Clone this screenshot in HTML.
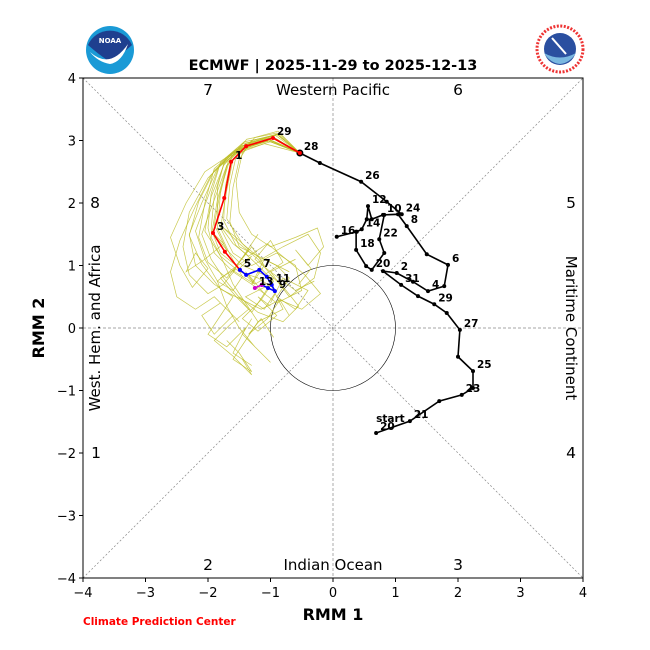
<!DOCTYPE html>
<html><head><meta charset="utf-8"><style>
body{margin:0;background:#fff;}
svg{display:block;font-family:"DejaVu Sans","Liberation Sans",sans-serif;}
</style></head><body>
<svg id="chart" width="650" height="650" viewBox="0 0 650 650">
<rect width="650" height="650" fill="#fff"/>
<g>
<circle cx="110" cy="50" r="24" fill="#1a9ad6"/>
<path d="M88 45 A24 24 0 0 1 132 45 Q122 54 110 62 Q98 54 88 45Z" fill="#1f3f8f"/>
<path d="M90 52 Q110 70 128 44 Q122 62 110 64 Q98 62 90 52Z" fill="#fff"/>
<text x="110" y="43" font-size="7" font-weight="bold" fill="#fff" text-anchor="middle">NOAA</text>
</g>
<g>
<circle cx="560" cy="49" r="23" fill="#fff" stroke="#e33" stroke-width="3" stroke-dasharray="2 1.5"/>
<circle cx="560" cy="49" r="16" fill="#2a4fa0"/>
<path d="M544 53 Q560 62 576 53 Q570 63 560 64 Q550 63 544 53Z" fill="#7ab8e0"/>
<path d="M552 38 L566 54" stroke="#fff" stroke-width="2"/>
</g>
<text x="333" y="70" font-size="14.5" font-weight="bold" text-anchor="middle">ECMWF | 2025-11-29 to 2025-12-13</text>
<g id="plot"></g>
<text x="333" y="620" font-size="16" font-weight="bold" text-anchor="middle">RMM 1</text>
<text x="44" y="328" font-size="16" font-weight="bold" text-anchor="middle" transform="rotate(-90 44 328)">RMM 2</text>
<text x="83" y="625" font-size="10.5" font-weight="bold" fill="#f00">Climate Prediction Center</text>
</svg>
<script>
const ticks=[-4,-3,-2,-1,0,1,2,3,4];
const obsX=[0.69,1.23,1.70,2.06,2.24,2.24,2.00,2.03,1.82,1.62,1.36,1.09,0.80,1.02,1.28,1.52,1.78,1.84,1.50,1.18,1.04,0.80,0.62,0.56,0.54,0.46,0.38,0.06,0.37,0.37,0.53,0.62,0.82,0.74,0.82,1.10,0.86,0.45,-0.21,-0.53];
const obsY=[-1.68,-1.49,-1.17,-1.07,-0.96,-0.69,-0.46,-0.03,0.24,0.38,0.51,0.69,0.91,0.88,0.74,0.59,0.67,1.01,1.18,1.63,1.82,1.81,1.74,1.95,1.74,1.58,1.54,1.46,1.54,1.25,0.99,0.93,1.20,1.42,1.81,1.82,2.02,2.34,2.64,2.80];
const obsLabels=["20","21","","23","","25","","27","","29","","31","","2","","4","","6","","8","","10","","12","","14","","16","","18","","20","","22","","24","","26","","28"];
const fcX=[-0.53,-0.96,-1.39,-1.63,-1.74,-1.92,-1.73,-1.49];
const fcY=[2.80,3.04,2.91,2.66,2.08,1.52,1.22,0.93];
const fcLabels=["","29","","1","","3","","5"];
const blX=[-1.49,-1.39,-1.18,-1.06,-0.98,-0.93,-1.04,-1.14];
const blY=[0.93,0.85,0.93,0.82,0.69,0.59,0.64,0.69];
const blLabels=["","","7","","11","9","",""];
const mgX=[-1.14,-1.25];
const mgY=[0.69,0.64];
const ensX=[
[-0.53,-0.95,-1.45,-1.75,-1.95,-2.05,-1.8,-1.5,-1.2,-0.9,-1.1,-1.4,-1.0,-0.8,-1.2],
[-0.53,-0.9,-1.35,-1.6,-1.7,-1.8,-1.6,-1.3,-0.9,-0.6,-0.5,-0.9,-1.3,-1.1,-0.7],
[-0.53,-1.0,-1.5,-1.85,-2.1,-2.3,-2.2,-1.9,-1.6,-1.8,-2.0,-1.7,-1.4,-1.6,-1.3],
[-0.53,-0.85,-1.3,-1.55,-1.65,-1.7,-1.45,-1.15,-0.8,-0.4,-0.2,-0.3,-0.7,-1.0,-0.6],
[-0.53,-1.05,-1.6,-1.95,-2.2,-2.45,-2.6,-2.5,-2.2,-1.9,-1.6,-1.9,-2.1,-1.8,-1.5],
[-0.53,-0.95,-1.4,-1.7,-1.85,-1.95,-1.75,-1.6,-1.4,-1.2,-1.4,-1.6,-1.3,-1.5,-1.7],
[-0.53,-0.9,-1.3,-1.5,-1.6,-1.65,-1.5,-1.2,-0.9,-0.7,-0.9,-0.6,-0.4,-0.8,-1.0],
[-0.53,-1.0,-1.55,-1.9,-2.05,-2.15,-2.0,-1.7,-1.5,-1.3,-1.1,-1.3,-1.6,-1.4,-1.2],
[-0.53,-0.95,-1.5,-1.8,-1.95,-2.0,-1.9,-1.65,-1.25,-1.0,-0.75,-0.55,-0.8,-1.2,-1.5],
[-0.53,-1.1,-1.65,-2.0,-2.3,-2.4,-2.3,-2.0,-1.75,-1.55,-1.8,-1.55,-1.3,-1.1,-1.35],
[-0.53,-0.9,-1.4,-1.65,-1.8,-1.9,-1.7,-1.45,-1.1,-0.8,-1.0,-1.25,-1.0,-0.6,-0.3],
[-0.53,-0.95,-1.35,-1.7,-1.9,-2.1,-1.95,-1.75,-1.55,-1.35,-1.65,-1.9,-1.6,-1.3,-1.45],
[-0.53,-0.88,-1.25,-1.45,-1.55,-1.5,-1.3,-1.0,-0.6,-0.25,-0.15,-0.4,-0.6,-0.35,-0.55],
[-0.53,-1.0,-1.6,-2.05,-2.35,-2.6,-2.45,-2.25,-2.0,-2.2,-2.35,-2.05,-1.75,-1.95,-1.7],
[-0.53,-0.92,-1.42,-1.72,-1.85,-1.85,-1.6,-1.35,-1.05,-0.75,-0.45,-0.2,-0.5,-0.85,-0.7],
[-0.53,-1.02,-1.5,-1.82,-2.0,-2.2,-2.05,-1.85,-1.7,-1.5,-1.25,-1.0,-1.2,-1.45,-1.3],
[-0.53,-0.97,-1.45,-1.75,-1.9,-1.95,-1.8,-1.55,-1.35,-1.55,-1.75,-1.5,-1.2,-0.95,-1.1],
[-0.53,-0.9,-1.38,-1.62,-1.72,-1.75,-1.55,-1.25,-0.95,-1.15,-1.45,-1.2,-0.9,-1.2,-1.0],
[-0.53,-1.05,-1.55,-1.9,-2.15,-2.3,-2.1,-1.8,-1.45,-1.15,-0.85,-1.05,-1.35,-1.15,-0.95],
[-0.53,-0.93,-1.4,-1.68,-1.8,-1.85,-1.65,-1.45,-1.6,-1.85,-1.6,-1.3,-1.5,-1.25,-1.4]];
const ensY=[
[2.80,3.05,2.95,2.6,2.1,1.55,1.15,0.9,0.8,0.6,0.3,0.5,0.7,0.3,0.1],
[2.80,3.1,2.95,2.7,2.2,1.6,1.2,1.0,1.2,1.0,0.6,0.4,0.7,1.1,0.9],
[2.80,3.0,2.85,2.55,2.0,1.5,1.0,0.7,0.5,0.2,-0.1,-0.3,0.0,-0.4,-0.6],
[2.80,3.1,3.0,2.75,2.3,1.75,1.35,1.1,1.3,1.5,1.2,0.8,0.5,0.9,1.1],
[2.80,3.0,2.8,2.45,1.95,1.4,0.9,0.5,0.3,0.5,0.2,-0.1,0.2,0.4,0.1],
[2.80,3.05,2.9,2.6,2.05,1.45,1.05,0.7,0.4,0.1,-0.2,-0.5,-0.7,-0.4,-0.2],
[2.80,3.1,3.0,2.7,2.25,1.7,1.3,1.15,1.0,0.8,0.5,0.3,0.6,0.8,0.4],
[2.80,3.0,2.85,2.55,2.0,1.45,1.05,0.8,1.05,1.3,1.0,0.7,0.9,1.2,1.5],
[2.80,3.05,2.9,2.65,2.15,1.6,1.2,0.95,0.7,0.85,0.6,0.35,0.1,0.25,0.5],
[2.80,2.95,2.75,2.4,1.85,1.3,0.85,0.55,0.7,0.95,0.8,0.5,0.25,0.55,0.85],
[2.80,3.1,2.95,2.7,2.2,1.65,1.25,1.0,0.85,1.05,1.4,1.1,0.9,0.6,0.75],
[2.80,3.05,2.9,2.6,2.05,1.5,1.1,0.8,0.55,0.3,0.05,-0.2,-0.45,-0.75,-0.5],
[2.80,3.15,3.05,2.8,2.35,1.85,1.5,1.3,1.45,1.6,1.3,1.0,1.25,0.95,0.7],
[2.80,2.98,2.8,2.5,2.0,1.45,1.0,0.65,0.95,1.2,0.9,1.1,1.35,1.55,1.25],
[2.80,3.08,2.98,2.72,2.25,1.7,1.35,1.15,1.35,1.1,0.85,0.55,0.3,0.45,0.2],
[2.80,3.02,2.88,2.6,2.1,1.55,1.1,0.75,0.35,0.0,-0.3,-0.55,-0.35,-0.1,0.15],
[2.80,3.06,2.92,2.62,2.12,1.58,1.2,1.0,1.25,1.45,1.6,1.35,1.1,0.8,0.55],
[2.80,3.12,3.02,2.74,2.28,1.72,1.32,1.05,0.75,0.45,0.15,-0.05,0.2,0.5,0.35],
[2.80,3.0,2.85,2.52,2.02,1.48,1.02,0.62,0.45,0.3,0.45,0.15,-0.1,0.15,-0.15],
[2.80,3.04,2.92,2.66,2.16,1.6,1.18,0.82,0.6,0.75,0.95,1.15,0.95,0.7,0.9]];

const NS="http://www.w3.org/2000/svg";
const L=83,T=78,W=500,H=500;
function sx(v){return L+(v+4)/8*W;}
function sy(v){return T+(4-v)/8*H;}
const g=document.getElementById('plot');
function mk(tag,attrs,parent){const e=document.createElementNS(NS,tag);for(const k in attrs)e.setAttribute(k,attrs[k]);(parent||g).appendChild(e);return e;}
let e;
e=mk('line',{x1:sx(-4),y1:sy(4),x2:sx(4),y2:sy(-4),stroke:'#888','stroke-width':0.7,'stroke-dasharray':'2 2'});


e=mk('line',{x1:sx(-4),y1:sy(-4),x2:sx(4),y2:sy(4),stroke:'#888','stroke-width':0.7,'stroke-dasharray':'2 2'});


e=mk('line',{x1:sx(0),y1:sy(4),x2:sx(0),y2:sy(-4),stroke:'#888','stroke-width':0.7,'stroke-dasharray':'3 2'});


e=mk('line',{x1:sx(-4),y1:sy(0),x2:sx(4),y2:sy(0),stroke:'#888','stroke-width':0.7,'stroke-dasharray':'3 2'});


e=mk('circle',{cx:sx(0),cy:sy(0),r:sx(1)-sx(0),fill:'none',stroke:'#000','stroke-width':0.6});


function pts(xs,ys){return xs.map((x,i)=>sx(x)+','+sy(ys[i])).join(' ');}
ensX.forEach((xs,i)=>{
  const p=mk('polyline',{points:pts(xs,ensY[i]),fill:'none',stroke:'#bcbc20','stroke-width':0.7,opacity:0.8});
  
  
});
function track(xs,ys,labels,color,name){
  const p=mk('polyline',{points:pts(xs,ys),fill:'none',stroke:color,'stroke-width':1.6});
  
  
  xs.forEach((x,i)=>{
    const c=mk('circle',{cx:sx(x),cy:sy(ys[i]),r:2,fill:color});
    
    
    if(labels&&labels[i]){
      const t=mk('text',{x:sx(x)+4,y:sy(ys[i])-3,'font-size':10.5,'font-weight':'bold',fill:'#000'});
      t.textContent=labels[i];
      
      
    }
  });
}
track(obsX,obsY,obsLabels,'#000','observed');
e=mk('circle',{cx:sx(obsX[obsX.length-1]),cy:sy(obsY[obsY.length-1]),r:3.5,fill:'#000'});


e=mk('text',{x:sx(obsX[0])+0,y:sy(obsY[0])-11,'font-size':10.5,'font-weight':'bold'});
e.textContent='start';


track(fcX,fcY,fcLabels,'#f00','forecast-week1');
track(blX,blY,blLabels,'#00f','forecast-week2');
track(mgX,mgY,["","13"],'#c0c','forecast-end');
e=mk('rect',{x:L,y:T,width:W,height:H,fill:'none',stroke:'#000','stroke-width':1});


ticks.forEach(v=>{
  let t=mk('line',{x1:sx(v),y1:T+H,x2:sx(v),y2:T+H+4,stroke:'#000'});
  
  
  let l=mk('text',{x:sx(v),y:T+H+19,'font-size':13,'text-anchor':'middle'});
  l.textContent=v<0?'\u2212'+(-v):String(v);
  
  
  t=mk('line',{x1:L-4,y1:sy(v),x2:L,y2:sy(v),stroke:'#000'});
  
  
  l=mk('text',{x:L-7,y:sy(v)+5,'font-size':13,'text-anchor':'end'});
  l.textContent=v<0?'\u2212'+(-v):String(v);
  
  
});
const phases=[["7",208,95],["6",458,95],["8",95,208],["5",571,208],["1",96,458],["4",571,458],["2",208,570],["3",458,570]];
phases.forEach(p=>{
  const t=mk('text',{x:p[1],y:p[2],'font-size':15.5,'text-anchor':'middle'});
  t.textContent=p[0];
  
  
});
e=mk('text',{x:333,y:95,'font-size':15,'text-anchor':'middle'});e.textContent='Western Pacific';


e=mk('text',{x:333,y:570,'font-size':15,'text-anchor':'middle'});e.textContent='Indian Ocean';


e=mk('text',{x:100,y:328,'font-size':15,'text-anchor':'middle',transform:'rotate(-90 100 328)'});e.textContent='West. Hem. and Africa';


e=mk('text',{x:566,y:328,'font-size':15,'text-anchor':'middle',transform:'rotate(90 566 328)'});e.textContent='Maritime Continent';


</script>
</body></html>
